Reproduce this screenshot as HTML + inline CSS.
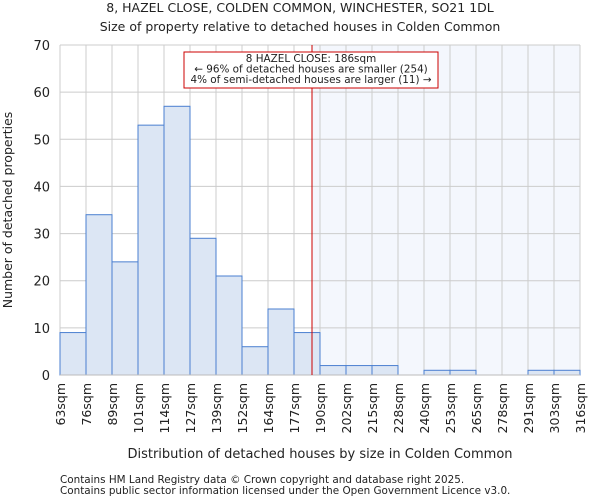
<!DOCTYPE html>
<html><head><meta charset="utf-8"><style>
body{margin:0;background:#fff;font-family:"DejaVu Sans","Liberation Sans",sans-serif;}
svg text{font-family:"DejaVu Sans","Liberation Sans",sans-serif;fill:#222;}
</style></head><body>
<svg id="chart" width="600" height="500" xmlns="http://www.w3.org/2000/svg">
<text x="300" y="12" font-size="12.5" text-anchor="middle">8, HAZEL CLOSE, COLDEN COMMON, WINCHESTER, SO21 1DL</text>
<text x="300" y="31" font-size="12.5" text-anchor="middle">Size of property relative to detached houses in Colden Common</text>
<g id="grid"></g><g id="bars"></g><g id="axes"></g>
<text x="320" y="458" font-size="13" text-anchor="middle">Distribution of detached houses by size in Colden Common</text>
<text transform="translate(12,210) rotate(-90)" font-size="12.5" text-anchor="middle">Number of detached properties</text>
<text x="60" y="483" font-size="10.4" fill="#444">Contains HM Land Registry data © Crown copyright and database right 2025.</text>
<text x="60" y="494" font-size="10.4" fill="#444">Contains public sector information licensed under the Open Government Licence v3.0.</text>
</svg>
<script>
const categories=["63sqm","76sqm","89sqm","101sqm","114sqm","127sqm","139sqm","152sqm","164sqm","177sqm","190sqm","202sqm","215sqm","228sqm","240sqm","253sqm","265sqm","278sqm","291sqm","303sqm","316sqm"];
const counts=[9,34,24,53,57,29,21,6,14,9,2,2,2,0,1,1,0,0,1,1];
const yTicks=[0,10,20,30,40,50,60,70];
const binEdges=[63,76,89,101,114,127,139,152,164,177,190,202,215,228,240,253,265,278,291,303,316];
const subjectSize=186;
const NS="http://www.w3.org/2000/svg";
const L=60,R=580,T=45,B=375,yMax=70;
const n=counts.length,bw=(R-L)/n;
const x=i=>L+i*bw;
const y=v=>B-(v/yMax)*(B-T);
function mk(tag,attrs,parent){const e=document.createElementNS(NS,tag);for(const k in attrs)e.setAttribute(k,attrs[k]);parent.appendChild(e);return e;}
const grid=document.getElementById('grid'),bars=document.getElementById('bars'),axes=document.getElementById('axes');
let sx=R;
for(let i=0;i<binEdges.length-1;i++){if(subjectSize>=binEdges[i]&&subjectSize<=binEdges[i+1]){sx=x(i)+(subjectSize-binEdges[i])/(binEdges[i+1]-binEdges[i])*bw;break;}}
const sh=mk('rect',{x:sx,y:T,width:R-sx,height:B-T,fill:'#f4f7fd'},grid);


for(let i=0;i<=n;i++){const g=mk('line',{x1:x(i),x2:x(i),y1:T,y2:B,stroke:'#ccc','stroke-width':1},grid);

}
yTicks.forEach(v=>{const g=mk('line',{x1:L,x2:R,y1:y(v),y2:y(v),stroke:'#ccc','stroke-width':1},grid);


const t=mk('text',{x:L-10,y:y(v)+5,'font-size':13,'text-anchor':'end'},axes);t.textContent=v;

});
counts.forEach((c,i)=>{if(c<=0)return;const r=mk('rect',{x:x(i),y:y(c),width:bw,height:B-y(c),fill:'#dce6f4',stroke:'#4a7fd0','stroke-width':1},bars);

});
categories.forEach((c,i)=>{const t=mk('text',{transform:`translate(${x(i)+5},${B+8}) rotate(-90)`,'font-size':12.5,'text-anchor':'end'},axes);t.textContent=c;

});
const ax=mk('line',{x1:L,x2:R,y1:B,y2:B,stroke:'#bbb'},axes);


const ln=mk('line',{x1:sx,x2:sx,y1:T,y2:B,stroke:'#cc0000','stroke-width':1},axes);


const box=mk('rect',{x:184,y:52,width:254,height:36,fill:'#fff',stroke:'#cc0000','stroke-width':1},axes);


["8 HAZEL CLOSE: 186sqm","← 96% of detached houses are smaller (254)","4% of semi-detached houses are larger (11) →"].forEach((s,i)=>{const t=mk('text',{x:311,y:62+i*10.5,'font-size':10.4,'text-anchor':'middle'},axes);t.textContent=s;

});
</script>
</body></html>
